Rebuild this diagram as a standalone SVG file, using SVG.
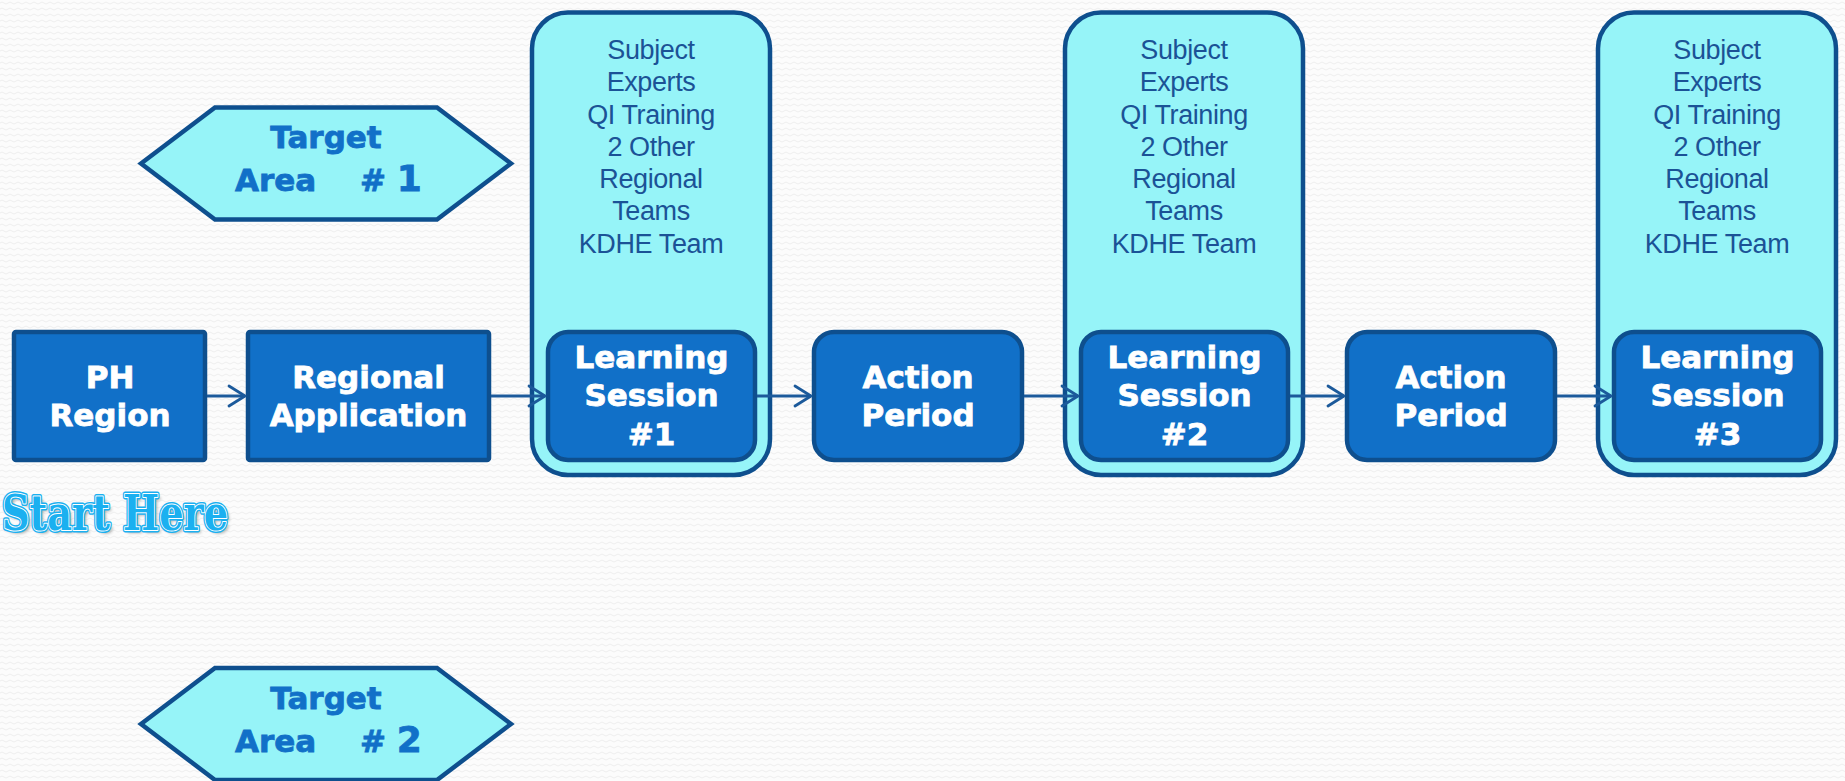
<svg xmlns="http://www.w3.org/2000/svg" width="1845" height="781" viewBox="0 0 1845 781">
  <defs>
    <pattern id="bgp" width="8" height="6" patternUnits="userSpaceOnUse">
      <rect width="8" height="6" fill="#fcfcfc"/>
      <path d="M0,3 Q2,1 4,3 T8,3" fill="none" stroke="#ececec" stroke-width="0.9"/>
    </pattern>
    <marker id="arr" markerUnits="userSpaceOnUse" markerWidth="24" markerHeight="26" viewBox="-20 -13 24 26" refX="0" refY="0" orient="auto">
      <path d="M-16,-10 L0,0 L-16,10" fill="none" stroke="#1c5a9b" stroke-width="2.8" stroke-linecap="round" stroke-linejoin="round"/>
    </marker>
    <filter id="sh" x="-10%" y="-30%" width="120%" height="160%">
      <feGaussianBlur stdDeviation="1.5"/>
    </filter>
  </defs>
  <style>
    .box { fill: #1170c8; stroke: #0e4f8e; stroke-width: 4.5; }
    .outer { fill: #96f4f8; stroke: #0e4f8e; stroke-width: 4.5; }
    .hex { fill: #96f4f8; stroke: #0e4f8e; stroke-width: 4.5; stroke-linejoin: miter; }
    .lbl { font-family: "DejaVu Sans", Verdana, sans-serif; font-weight: bold; font-size: 31px; fill: #ffffff; stroke: #ffffff; stroke-width: 0.8; text-anchor: middle; }
    .tgt { font-family: "DejaVu Sans", Verdana, sans-serif; font-weight: bold; font-size: 31px; fill: #1170c8; stroke: #1170c8; stroke-width: 0.8; }
    .big { font-size: 36px; }
    .sub { font-family: "Liberation Sans", Arial, sans-serif; font-size: 27px; fill: #1b5296; text-anchor: middle; letter-spacing: -0.4px; }
    .conn { stroke: #1c5a9b; stroke-width: 2.8; fill: none; marker-end: url(#arr); }
    .sh { font-family: "DejaVu Serif", "Liberation Serif", serif; font-weight: bold; font-size: 48px; }
  </style>

  <rect width="1845" height="781" fill="url(#bgp)"/>

  <!-- Target Area #1 -->
  <g id="target1">
    <polygon class="hex" points="141,163.5 215,107.5 437,107.5 511,163.5 437,219.5 215,219.5"/>
    <text class="tgt" x="326" y="148" text-anchor="middle">Target</text>
    <text class="tgt" y="191"><tspan x="235">Area</tspan><tspan x="360"># <tspan class="big">1</tspan></tspan></text>
  </g>

  <!-- Target Area #2 -->
  <g id="target2">
    <polygon class="hex" points="141,724 215,668 437,668 511,724 437,780 215,780"/>
    <text class="tgt" x="326" y="709" text-anchor="middle">Target</text>
    <text class="tgt" y="752"><tspan x="235">Area</tspan><tspan x="360"># <tspan class="big">2</tspan></tspan></text>
  </g>

  <!-- PH Region -->
  <g id="ph-region">
    <rect class="box" x="14" y="332" width="191" height="128" rx="2"/>
    <text class="lbl" x="110" y="388">PH</text>
    <text class="lbl" x="110" y="426">Region</text>
  </g>

  <!-- Regional Application -->
  <g id="regional-application">
    <rect class="box" x="248" y="332" width="241" height="128" rx="2"/>
    <text class="lbl" x="368.5" y="388">Regional</text>
    <text class="lbl" x="368.5" y="426">Application</text>
  </g>

  <!-- Learning Session #1 -->
  <g id="learning-session-1">
    <rect class="outer" x="532" y="12.5" width="238" height="462.5" rx="36"/>
    <text class="sub" x="651" y="59">Subject</text>
    <text class="sub" x="651" y="91.3">Experts</text>
    <text class="sub" x="651" y="123.5">QI Training</text>
    <text class="sub" x="651" y="155.8">2 Other</text>
    <text class="sub" x="651" y="188">Regional</text>
    <text class="sub" x="651" y="220.3">Teams</text>
    <text class="sub" x="651" y="252.5">KDHE Team</text>
    <rect class="box" x="548" y="332" width="207" height="128" rx="20"/>
    <text class="lbl" x="651.5" y="368">Learning</text>
    <text class="lbl" x="651.5" y="406">Session</text>
    <text class="lbl" x="651.5" y="445">#1</text>
  </g>

  <!-- Action Period 1 -->
  <g id="action-period-1">
    <rect class="box" x="814" y="332" width="208" height="128" rx="20"/>
    <text class="lbl" x="918" y="388">Action</text>
    <text class="lbl" x="918" y="426">Period</text>
  </g>

  <!-- Learning Session #2 -->
  <g id="learning-session-2">
    <rect class="outer" x="1065" y="12.5" width="238" height="462.5" rx="36"/>
    <text class="sub" x="1184" y="59">Subject</text>
    <text class="sub" x="1184" y="91.3">Experts</text>
    <text class="sub" x="1184" y="123.5">QI Training</text>
    <text class="sub" x="1184" y="155.8">2 Other</text>
    <text class="sub" x="1184" y="188">Regional</text>
    <text class="sub" x="1184" y="220.3">Teams</text>
    <text class="sub" x="1184" y="252.5">KDHE Team</text>
    <rect class="box" x="1081" y="332" width="207" height="128" rx="20"/>
    <text class="lbl" x="1184.5" y="368">Learning</text>
    <text class="lbl" x="1184.5" y="406">Session</text>
    <text class="lbl" x="1184.5" y="445">#2</text>
  </g>

  <!-- Action Period 2 -->
  <g id="action-period-2">
    <rect class="box" x="1347" y="332" width="208" height="128" rx="20"/>
    <text class="lbl" x="1451" y="388">Action</text>
    <text class="lbl" x="1451" y="426">Period</text>
  </g>

  <!-- Learning Session #3 -->
  <g id="learning-session-3">
    <rect class="outer" x="1598" y="12.5" width="238" height="462.5" rx="36"/>
    <text class="sub" x="1717" y="59">Subject</text>
    <text class="sub" x="1717" y="91.3">Experts</text>
    <text class="sub" x="1717" y="123.5">QI Training</text>
    <text class="sub" x="1717" y="155.8">2 Other</text>
    <text class="sub" x="1717" y="188">Regional</text>
    <text class="sub" x="1717" y="220.3">Teams</text>
    <text class="sub" x="1717" y="252.5">KDHE Team</text>
    <rect class="box" x="1614" y="332" width="207" height="128" rx="20"/>
    <text class="lbl" x="1717.5" y="368">Learning</text>
    <text class="lbl" x="1717.5" y="406">Session</text>
    <text class="lbl" x="1717.5" y="445">#3</text>
  </g>

  <!-- Connectors -->
  <g id="connectors">
    <line class="conn" x1="207" y1="396" x2="245" y2="396"/>
    <line class="conn" x1="491" y1="396" x2="545" y2="396"/>
    <line class="conn" x1="757" y1="396" x2="811" y2="396"/>
    <line class="conn" x1="1024" y1="396" x2="1078" y2="396"/>
    <line class="conn" x1="1290" y1="396" x2="1344" y2="396"/>
    <line class="conn" x1="1557" y1="396" x2="1611" y2="396"/>
  </g>

  <!-- Start Here -->
  <g id="start-here">
    <text class="sh" x="5" y="533" textLength="226" lengthAdjust="spacingAndGlyphs" fill="#8a8a8a" opacity="0.7" filter="url(#sh)">Start Here</text>
    <text class="sh" x="2" y="530" textLength="226" lengthAdjust="spacingAndGlyphs" fill="#1bb0f0" stroke="#1bb0f0" stroke-width="5" stroke-linejoin="round">Start Here</text>
    <text class="sh" x="2" y="530" textLength="226" lengthAdjust="spacingAndGlyphs" fill="none" stroke="#ffffff" stroke-width="2" stroke-linejoin="round">Start Here</text>
    <text class="sh" x="2" y="530" textLength="226" lengthAdjust="spacingAndGlyphs" fill="#1bb0f0">Start Here</text>
  </g>
</svg>
